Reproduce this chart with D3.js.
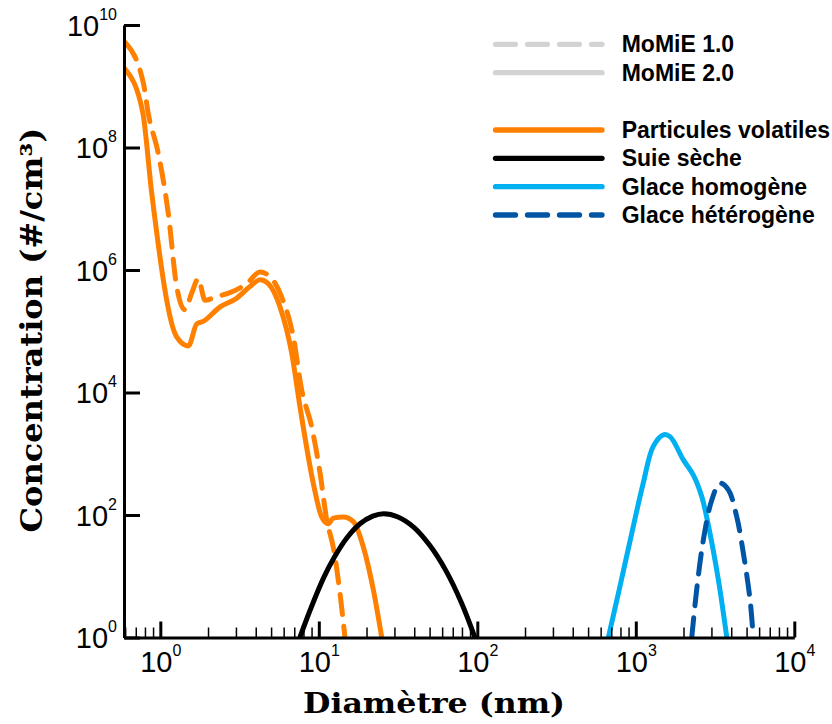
<!DOCTYPE html>
<html><head><meta charset="utf-8">
<script src="https://cdn.jsdelivr.net/npm/d3@7"></script>
<style>body{margin:0;background:#fff} svg{display:block}</style>
</head><body>
<svg id="chart" width="832" height="724"></svg>
<script>
// ---------- data ----------
const volDiam2 = [0.60, 0.774, 0.883, 1.268, 1.503, 1.698, 1.866, 2.382, 3.034, 3.681, 4.256, 4.797, 5.689, 6.745, 7.603, 9.226, 10.42, 11.48, 12.33, 14.29, 16.52, 19.1, 22.08, 24.95];
const volConc2 = [1.9e9, 3.8e8, 1.78e7, 8.1e4, 5.75e4, 1.32e5, 1.45e5, 2.5e5, 3.47e5, 5.4e5, 6.9e5, 6.0e5, 2.5e5, 4.4e4, 5.9e3, 331, 93, 72, 89, 93, 78, 30, 6.0, 1.0];

const volDiam1 = [0.60, 0.782, 0.839, 0.970, 1.122, 1.268, 1.432, 1.578, 1.738, 1.914, 2.213, 2.891, 3.508, 4.256, 4.92, 5.834, 6.902, 7.798, 9.016, 10.19, 11.22, 12.33, 13.61, 14.62];
const volConc1 = [5.2e9, 1.12e9, 3.6e8, 8.1e7, 8.5e6, 5.4e5, 2.24e5, 4.2e5, 7.2e5, 3.2e5, 3.6e5, 4.5e5, 6.0e5, 9.3e5, 7.8e5, 3.6e5, 8.1e4, 1.1e4, 2.75e3, 479, 83, 30, 5.2, 1.0];

const sootDiam = [7.59, 8.91, 10.7, 12.6, 15.1, 18.2, 21.9, 25.7, 31.6, 39.8, 50.1, 63.1, 79.4, 96.6];
const sootConc = [1.0, 3.0, 9.3, 21, 43, 72, 96, 105, 93, 63, 32, 12.6, 3.7, 1.0];

const iceHomDiam = [671, 794, 964, 1114, 1288, 1493, 1644, 1995, 2307, 2606, 2938, 3319, 3750];
const iceHomConc = [1.0, 6.8, 65, 331, 1318, 2040, 1905, 794, 447, 200, 50, 8.7, 1.0];

const iceHetDiam = [2254, 2421, 2667, 3013, 3396, 3837, 4335, 4775, 5260, 5508];
const iceHetConc = [1.0, 6.0, 39, 174, 331, 257, 93, 23.4, 4.1, 1.0];

const xMajorTicks = [1, 10, 100, 1000, 10000];
const xTickExponents = ["0", "1", "2", "3", "4"];
const yMajorTicks = [1, 1e2, 1e4, 1e6, 1e8, 1e10];
const yTickExponents = ["0", "2", "4", "6", "8", "10"];

const legendLabels = ["MoMiE 1.0", "MoMiE 2.0", "Particules volatiles", "Suie sèche", "Glace homogène", "Glace hétérogène"];
const legendColors = ["#d3d3d3", "#d3d3d3", "#ff8000", "#000000", "#00b0f0", "#0055a5"];
const legendDashed = [true, false, false, false, false, true];

const xTitle = "Diamètre (nm)";
const yTitle = "Concentration (#/cm³)";

// ---------- layout ----------
const svg = d3.select("#chart");
const mLeft = 124, mRight = 794.3, mTop = 25, mBottom = 637.5;

const x = d3.scaleLog().domain([0.59, 1e4]).range([mLeft, mRight]);
const y = d3.scaleLog().domain([1, 1e10]).range([mBottom, mTop]);

svg.append("defs").append("clipPath").attr("id", "plotclip")
  .append("rect").attr("x", mLeft).attr("y", 0).attr("width", 832 - mLeft).attr("height", mBottom);

const plot = svg.append("g").attr("clip-path", "url(#plotclip)");
const lineMono = d3.line().x(d => x(d[0])).y(d => y(d[1])).curve(d3.curveMonotoneX);
const lineSmooth = d3.line().x(d => x(d[0])).y(d => y(d[1])).curve(d3.curveCatmullRom.alpha(0.5));
const zip = (a, b) => a.map((v, i) => [v, b[i]]);

const series = [
  {d: volDiam1, c: volConc1, color: "#ff8000", dash: true, gen: lineMono},
  {d: volDiam2, c: volConc2, color: "#ff8000", dash: false, gen: lineMono},
  {d: sootDiam, c: sootConc, color: "#000000", dash: false, gen: lineSmooth},
  {d: iceHomDiam, c: iceHomConc, color: "#00b0f0", dash: false, gen: lineSmooth},
  {d: iceHetDiam, c: iceHetConc, color: "#0055a5", dash: true, gen: lineSmooth}
];
series.forEach(s => {
  plot.append("path")
    .attr("d", s.gen(zip(s.d, s.c)))
    .attr("fill", "none")
    .attr("stroke", s.color)
    .attr("stroke-width", 5)
    .attr("stroke-linecap", "round")
    .attr("stroke-linejoin", "round")
    .attr("stroke-dasharray", s.dash ? "20,12" : null);
});

// ---------- axes ----------
const xMinor = [];
[0.1, 1, 10, 100, 1000].forEach(p => { for (let k = 2; k <= 9; k++) { const v = p * k; if (v >= 0.6 && v < 1e4) xMinor.push(v); } });

const gxMinor = svg.append("g").attr("transform", `translate(0,${mBottom})`)
  .call(d3.axisBottom(x).tickValues(xMinor).tickSizeInner(-10).tickSizeOuter(0).tickFormat(""));
gxMinor.select(".domain").remove();
gxMinor.selectAll(".tick line").attr("stroke", "#000").attr("stroke-width", 1.5);

const gx = svg.append("g").attr("transform", `translate(0,${mBottom})`)
  .call(d3.axisBottom(x).tickValues(xMajorTicks).tickSizeInner(-16).tickSizeOuter(0).tickPadding(0));
gx.attr("font-family", "'Liberation Sans', Arial, sans-serif").attr("font-size", 29);
gx.select(".domain").attr("stroke", "#000").attr("stroke-width", 3);
gx.selectAll(".tick line").attr("stroke", "#000").attr("stroke-width", 3);
gx.selectAll(".tick text").each(function(d, i) {
  const t = d3.select(this).text(null).attr("y", 34).attr("dy", 0).attr("fill", "#000");
  t.append("tspan").text("10");
  t.append("tspan").attr("font-size", 16).attr("dy", -16).text(xTickExponents[i]);
});

const gy = svg.append("g").attr("transform", `translate(${mLeft},0)`)
  .call(d3.axisLeft(y).tickValues(yMajorTicks).tickSizeInner(-16).tickSizeOuter(0).tickPadding(7));
gy.attr("font-family", "'Liberation Sans', Arial, sans-serif").attr("font-size", 29);
gy.select(".domain").attr("stroke", "#000").attr("stroke-width", 3);
gy.selectAll(".tick line").attr("stroke", "#000").attr("stroke-width", 3);
gy.selectAll(".tick text").each(function(d, i) {
  const t = d3.select(this).text(null).attr("dy", "0.36em").attr("fill", "#000");
  t.append("tspan").text("10");
  t.append("tspan").attr("font-size", 16).attr("dy", -16).text(yTickExponents[i]);
});

// ---------- titles ----------
svg.append("text")
  .attr("x", 434).attr("y", 713)
  .attr("text-anchor", "middle")
  .attr("font-family", "'DejaVu Serif', serif").attr("font-weight", "bold").attr("font-size", 28)
  .attr("textLength", 262).attr("lengthAdjust", "spacingAndGlyphs")
  .text(xTitle);

svg.append("text")
  .attr("transform", "translate(42,330) rotate(-90)")
  .attr("text-anchor", "middle")
  .attr("font-family", "'DejaVu Serif', serif").attr("font-weight", "bold").attr("font-size", 30)
  .attr("textLength", 405).attr("lengthAdjust", "spacingAndGlyphs")
  .text(yTitle);

// ---------- legend ----------
const legendY = [44.3, 72.7, 130, 158.3, 186.7, 215];
const lg = svg.append("g");
legendLabels.forEach((lab, i) => {
  lg.append("line")
    .attr("x1", 495.5).attr("x2", 602).attr("y1", legendY[i]).attr("y2", legendY[i])
    .attr("stroke", legendColors[i]).attr("stroke-width", 5.3)
    .attr("stroke-linecap", "round")
    .attr("stroke-dasharray", legendDashed[i] ? "20,12" : null);
  lg.append("text")
    .attr("x", 621.7).attr("y", legendY[i] + 8)
    .attr("font-family", "'Liberation Sans', Arial, sans-serif")
    .attr("font-weight", "bold").attr("font-size", 23)
    .attr("fill", "#000")
    .text(lab);
});
</script></body></html>
